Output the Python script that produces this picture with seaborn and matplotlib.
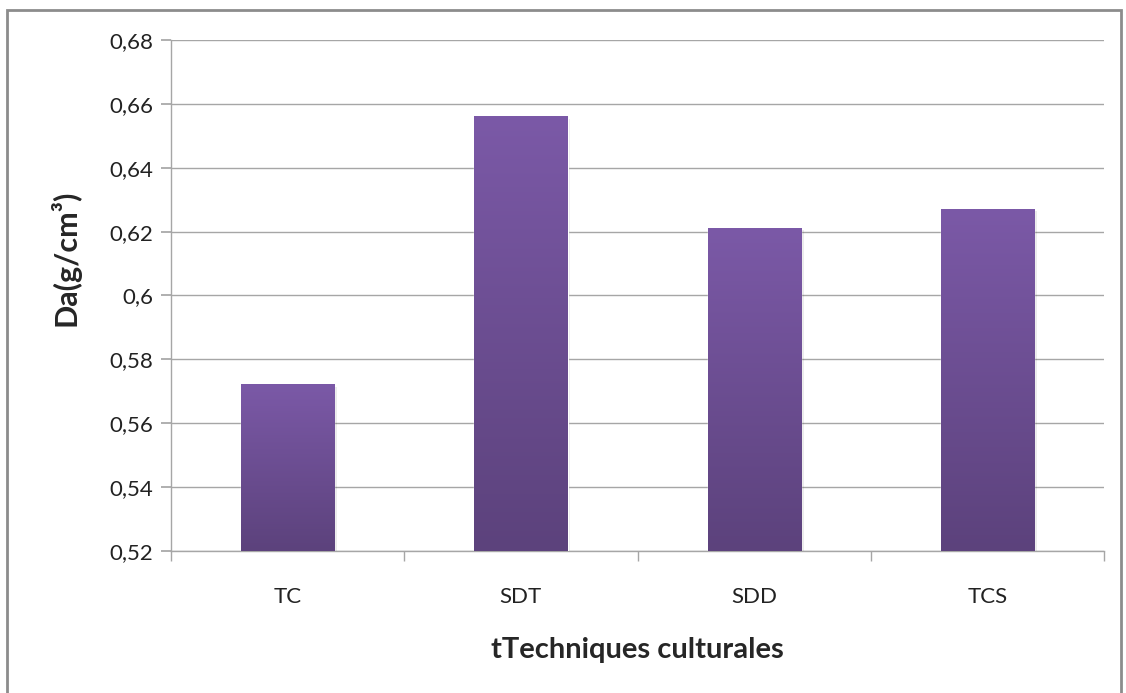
import matplotlib
matplotlib.use("Agg")
import matplotlib.pyplot as plt
import matplotlib.patches as mpatches
from matplotlib.colors import LinearSegmentedColormap
from matplotlib.ticker import FuncFormatter
import numpy as np
import pandas as pd
import seaborn as sns

techniques = ["TC", "SDT", "SDD", "TCS"]
densite = [0.572, 0.656, 0.621, 0.627]

df = pd.DataFrame({"Technique": techniques, "Da": densite})

sns.set_theme(style="white")
plt.rcParams["font.family"] = ["Lato", "DejaVu Sans"]

fig = plt.figure(figsize=(11.26, 6.93), dpi=100)
ax = fig.add_axes([0.1519, 0.2049, 0.8286, 0.7374])

sns.barplot(data=df, x="Technique", y="Da", color="#6E4F96", width=0.40,
            saturation=1, ax=ax, zorder=3)

ymin, ymax = 0.52, 0.68
ax.set_ylim(ymin, ymax)
ax.set_yticks(np.arange(0.52, 0.6801, 0.02))
ax.yaxis.set_major_formatter(FuncFormatter(lambda v, p: f"{round(v, 2):g}".replace(".", ",")))

# vertical gradient on each bar
cmap = LinearSegmentedColormap.from_list("purp", ["#5C427C", "#7B59A7"])
grad = np.linspace(0, 1, 256).reshape(-1, 1)
for bar in list(ax.patches):
    x0 = bar.get_x()
    w, top = bar.get_width(), bar.get_y() + bar.get_height()
    sh = mpatches.Rectangle((x0 + 0.012, ymin), w, top - ymin - 0.0006,
                            facecolor="#000000", alpha=0.08, edgecolor="none", zorder=2)
    ax.add_patch(sh)
    ax.imshow(grad, extent=[x0, x0 + w, ymin, top], origin="lower",
              cmap=cmap, aspect="auto", zorder=4)
ax.set_xlim(-0.5, len(techniques) - 0.5)
ax.set_ylim(ymin, ymax)

ax.grid(axis="y", color="#A6A6A6", linewidth=1.0, zorder=0)
ax.grid(axis="x", visible=False)
for s in ["top", "right"]:
    ax.spines[s].set_visible(False)
for s in ["left", "bottom"]:
    ax.spines[s].set_color("#A6A6A6")
    ax.spines[s].set_linewidth(1.0)

ax.tick_params(axis="y", which="major", direction="out", length=7, color="#A6A6A6",
               left=True, labelsize=16, pad=6, labelcolor="#222222")
ax.set_xticks(range(len(techniques)))
ax.set_xticklabels(techniques)
ax.tick_params(axis="x", which="major", length=0, labelsize=16, pad=26, labelcolor="#222222")
ax.set_xticks(np.arange(-0.5, len(techniques), 1.0), minor=True)
ax.tick_params(axis="x", which="minor", direction="out", length=7, color="#A6A6A6", bottom=True)

ax.set_xlabel("tTechniques culturales", fontsize=21, fontweight="bold")
ax.set_ylabel("Da(g/cm³)", fontsize=22, fontweight="bold")
ax.xaxis.set_label_coords(0.5, -0.194)
ax.yaxis.set_label_coords(-0.1136, 0.573)
ax.xaxis.label.set_va("center")
ax.yaxis.label.set_va("center")

# outer chart frame
frame = mpatches.Rectangle((7 / 1126, -0.02), 1114 / 1126, 1 - 10 / 693 + 0.02,
                           transform=fig.transFigure, fill=False,
                           edgecolor="#8C8C8C", linewidth=2.0)
fig.patches.append(frame)

fig.savefig("out.png", dpi=100)
